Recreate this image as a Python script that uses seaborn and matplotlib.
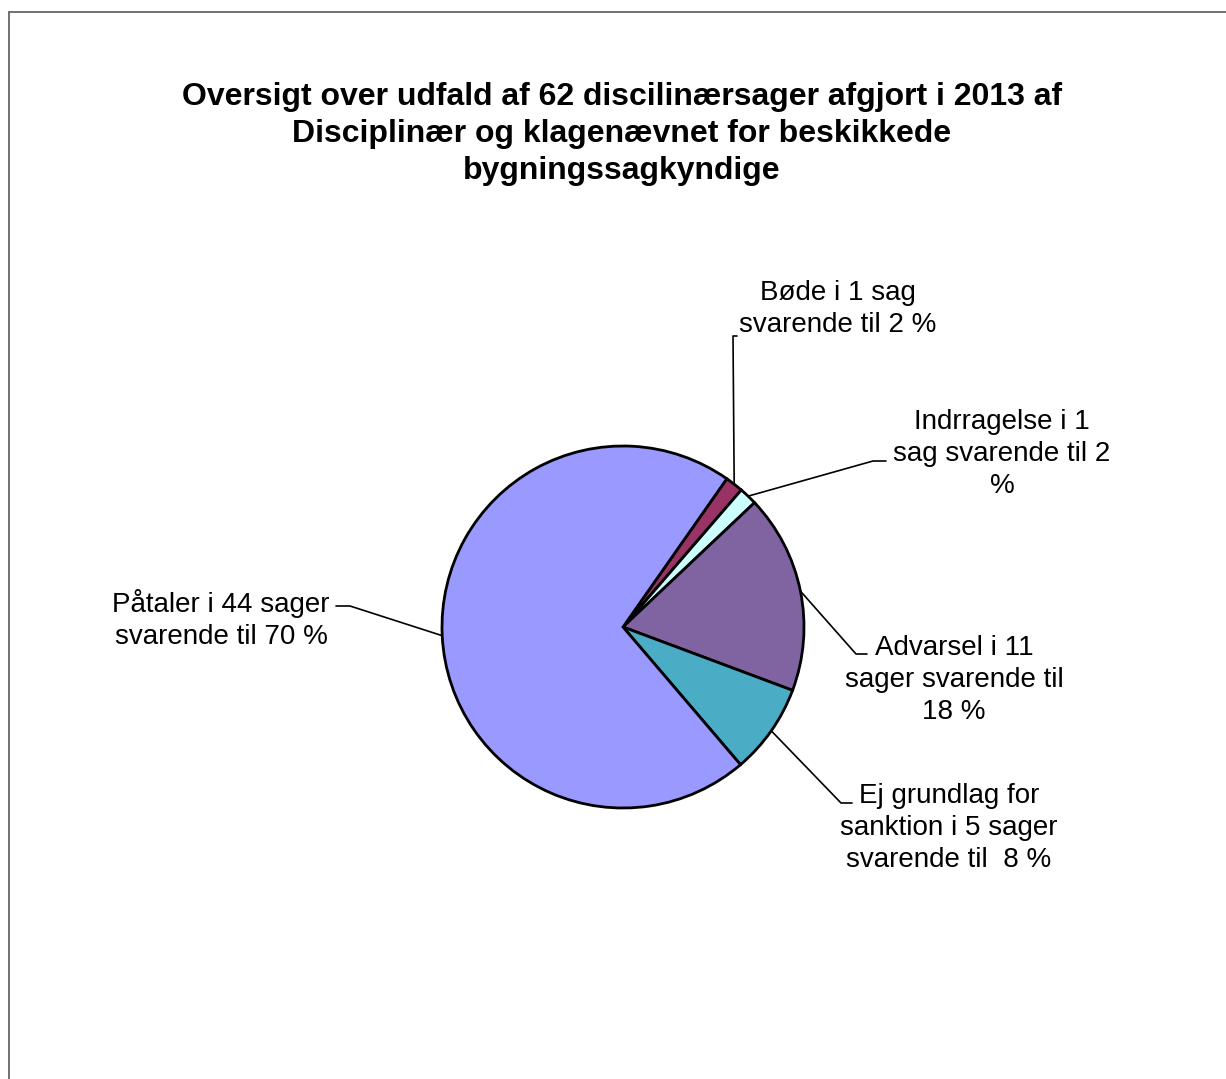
import numpy as np
import matplotlib
matplotlib.use("Agg")
import matplotlib.pyplot as plt
import seaborn as sns
from matplotlib.lines import Line2D

# data
labels = [
    "Bøde i 1 sag\nsvarende til 2 %",
    "Indrragelse i 1\nsag svarende til 2\n%",
    "Advarsel i 11\nsager svarende til\n18 %",
    "Ej grundlag for\nsanktion i 5 sager\nsvarende til  8 %",
    "Påtaler i 44 sager\nsvarende til 70 %",
]
counts = [1, 1, 11, 5, 44]
colors = ["#993366", "#CCFFFF", "#8064A2", "#4BACC6", "#9999FF"]
title = ("Oversigt over udfald af 62 discilinærsager afgjort i 2013 af\n"
         "Disciplinær og klagenævnet for beskikkede\n"
         "bygningssagkyndige")

# layout (pixel positions, y measured from the top)
W, H = 1226, 1079
center_px = (623, 627)
radius = 181
label_pos = [(838, 309), (1002, 454), (954, 680), (949, 828), (221, 620)]
elbows = [(733, 336), (873, 461), (856, 654), (841, 803), (350, 606)]
stubs = [(737, 336), (886, 461), (867, 654), (852, 803), (336, 606)]


def py(y):
    return H - y


sns.set_style("white")
plt.rcParams["font.family"] = ["Liberation Sans", "DejaVu Sans"]
plt.rcParams["text.color"] = "black"

fig = plt.figure(figsize=(W / 100, H / 100), dpi=100)
ax = fig.add_axes([0, 0, 1, 1])

wedges, _ = ax.pie(
    counts,
    colors=colors,
    startangle=55,
    counterclock=False,
    center=(center_px[0], py(center_px[1])),
    radius=radius,
    wedgeprops=dict(edgecolor="black", linewidth=2.0),
)
ax.set_xlim(0, W)
ax.set_ylim(0, H)
ax.set_aspect("equal")
ax.axis("off")

# leader lines + labels
for w, lab, lp, el, st in zip(wedges, labels, label_pos, elbows, stubs):
    mid = np.deg2rad((w.theta1 + w.theta2) / 2)
    ex = center_px[0] + radius * np.cos(mid)
    ey = py(center_px[1]) + radius * np.sin(mid)
    ax.plot([ex, el[0], st[0]], [ey, py(el[1]), py(st[1])],
            color="black", linewidth=1.2)
    ax.text(lp[0], py(lp[1]), lab, ha="center", va="center", color="black",
            multialignment="center", fontsize=20, linespacing=1.3)

ax.text(622, py(134), title, ha="center", va="center", fontsize=23,
        color="black", fontweight="bold", linespacing=1.32)

# chart area border (top and left visible)
fig.add_artist(Line2D([9 / W, 9 / W], [0, 1 - 12 / H], color="#666666",
                      linewidth=1.3, transform=fig.transFigure))
fig.add_artist(Line2D([9 / W, 1], [1 - 12 / H, 1 - 12 / H], color="#666666",
                      linewidth=1.3, transform=fig.transFigure))

fig.savefig("out.png", dpi=100, facecolor="white")
